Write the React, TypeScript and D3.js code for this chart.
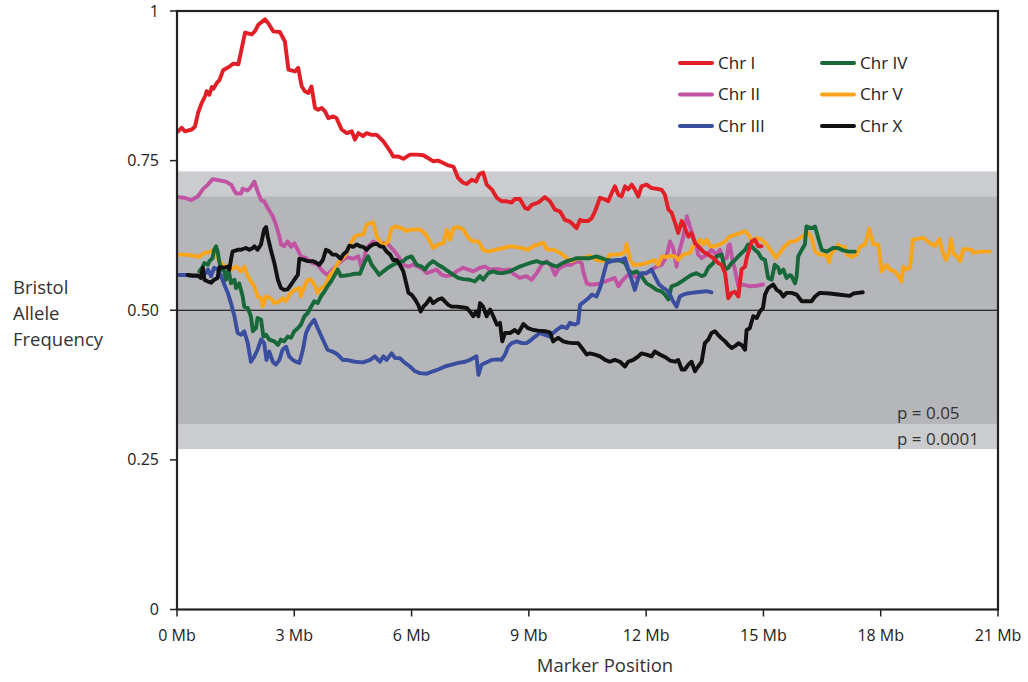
import * as d3 from "d3";

// marker position (Mb), Bristol allele frequency
const chrI: [number, number][] = [
  [0.03, 0.799], [0.12, 0.805], [0.2, 0.799], [0.38, 0.802], [0.46, 0.807], [0.54, 0.83], [0.63, 0.846],
  [0.72, 0.858], [0.76, 0.866], [0.83, 0.86], [0.89, 0.873], [0.93, 0.87], [1.02, 0.88], [1.08, 0.884],
  [1.18, 0.901], [1.36, 0.908], [1.44, 0.912], [1.57, 0.911], [1.74, 0.964], [1.91, 0.961], [1.99, 0.966],
  [2.08, 0.977], [2.25, 0.986], [2.33, 0.98], [2.46, 0.966], [2.63, 0.965], [2.76, 0.949], [2.85, 0.902],
  [3.02, 0.899], [3.1, 0.905], [3.19, 0.874], [3.27, 0.866], [3.36, 0.863], [3.44, 0.874], [3.53, 0.838],
  [3.61, 0.835], [3.7, 0.838], [3.79, 0.832], [3.87, 0.821], [4.0, 0.824], [4.08, 0.821], [4.21, 0.802],
  [4.34, 0.796], [4.47, 0.799], [4.55, 0.785], [4.64, 0.796], [4.76, 0.791], [4.85, 0.796], [4.98, 0.793],
  [5.11, 0.793], [5.28, 0.782], [5.45, 0.766], [5.53, 0.757], [5.66, 0.757], [5.79, 0.753], [5.96, 0.76],
  [6.13, 0.76], [6.3, 0.759], [6.43, 0.754], [6.55, 0.749], [6.68, 0.75], [6.81, 0.746], [6.94, 0.742],
  [7.07, 0.74], [7.19, 0.721], [7.32, 0.713], [7.41, 0.711], [7.54, 0.718], [7.65, 0.715], [7.73, 0.727],
  [7.83, 0.73], [7.92, 0.71], [8.05, 0.702], [8.18, 0.688], [8.3, 0.682], [8.43, 0.682], [8.56, 0.68],
  [8.64, 0.686], [8.77, 0.686], [8.9, 0.671], [8.98, 0.669], [9.07, 0.676], [9.24, 0.68], [9.41, 0.689],
  [9.54, 0.682], [9.67, 0.668], [9.8, 0.665], [9.92, 0.651], [10.05, 0.648], [10.18, 0.64], [10.22, 0.637],
  [10.31, 0.651], [10.39, 0.649], [10.52, 0.649], [10.61, 0.654], [10.69, 0.665], [10.82, 0.688], [10.95, 0.685],
  [11.03, 0.682], [11.12, 0.696], [11.2, 0.707], [11.29, 0.693], [11.37, 0.69], [11.46, 0.707], [11.54, 0.702],
  [11.63, 0.71], [11.71, 0.702], [11.8, 0.69], [11.88, 0.707], [12.01, 0.71], [12.14, 0.704], [12.27, 0.703],
  [12.4, 0.701], [12.48, 0.693], [12.57, 0.668], [12.65, 0.663], [12.74, 0.646], [12.82, 0.629], [12.91, 0.649],
  [12.99, 0.638], [13.08, 0.623], [13.16, 0.629], [13.25, 0.612], [13.33, 0.607], [13.46, 0.598], [13.59, 0.593],
  [13.72, 0.587], [13.84, 0.579], [13.93, 0.576], [14.02, 0.562], [14.1, 0.52], [14.19, 0.529], [14.27, 0.531],
  [14.36, 0.523], [14.44, 0.568], [14.53, 0.573], [14.57, 0.587], [14.7, 0.615], [14.78, 0.618], [14.87, 0.607],
  [14.95, 0.607],
];

const chrII: [number, number][] = [
  [0.02, 0.689], [0.19, 0.688], [0.36, 0.684], [0.53, 0.69], [0.66, 0.702], [0.79, 0.71], [0.91, 0.719],
  [1.08, 0.717], [1.25, 0.715], [1.38, 0.71], [1.51, 0.695], [1.64, 0.695], [1.68, 0.703], [1.81, 0.7],
  [1.89, 0.706], [1.98, 0.715], [2.06, 0.699], [2.15, 0.684], [2.23, 0.682], [2.32, 0.671], [2.45, 0.657],
  [2.53, 0.643], [2.62, 0.623], [2.66, 0.61], [2.74, 0.607], [2.83, 0.615], [2.92, 0.606], [3.0, 0.612],
  [3.09, 0.601], [3.17, 0.59], [3.3, 0.587], [3.38, 0.582], [3.47, 0.579], [3.6, 0.576], [3.73, 0.565],
  [3.85, 0.559], [3.98, 0.568], [4.15, 0.579], [4.24, 0.584], [4.34, 0.589], [4.51, 0.586], [4.64, 0.59],
  [4.72, 0.571], [4.85, 0.604], [5.02, 0.615], [5.15, 0.61], [5.28, 0.612], [5.4, 0.61], [5.53, 0.601],
  [5.66, 0.59], [5.79, 0.576], [5.92, 0.573], [6.04, 0.576], [6.17, 0.573], [6.3, 0.568], [6.39, 0.562],
  [6.51, 0.565], [6.64, 0.568], [6.77, 0.559], [6.9, 0.557], [7.03, 0.559], [7.15, 0.565], [7.32, 0.571],
  [7.45, 0.568], [7.58, 0.565], [7.75, 0.571], [7.88, 0.573], [8.0, 0.568], [8.18, 0.569], [8.34, 0.567],
  [8.52, 0.568], [8.6, 0.561], [8.77, 0.554], [8.94, 0.557], [9.07, 0.551], [9.2, 0.562], [9.33, 0.576],
  [9.46, 0.582], [9.58, 0.573], [9.67, 0.559], [9.75, 0.568], [9.84, 0.573], [9.97, 0.576], [10.09, 0.576],
  [10.22, 0.582], [10.35, 0.579], [10.39, 0.565], [10.48, 0.545], [10.56, 0.543], [10.69, 0.543], [10.82, 0.545],
  [10.95, 0.548], [11.07, 0.551], [11.2, 0.554], [11.29, 0.54], [11.37, 0.548], [11.5, 0.557], [11.63, 0.562],
  [11.76, 0.554], [11.88, 0.559], [12.01, 0.562], [12.14, 0.568], [12.27, 0.573], [12.4, 0.576], [12.52, 0.59],
  [12.61, 0.615], [12.69, 0.604], [12.78, 0.573], [12.82, 0.59], [12.86, 0.601], [12.95, 0.623], [13.04, 0.657],
  [13.12, 0.64], [13.2, 0.623], [13.29, 0.607], [13.33, 0.593], [13.42, 0.587], [13.55, 0.593], [13.67, 0.601],
  [13.8, 0.593], [13.89, 0.601], [13.97, 0.585], [14.06, 0.587], [14.1, 0.607], [14.14, 0.61], [14.19, 0.59],
  [14.27, 0.568], [14.36, 0.54], [14.48, 0.543], [14.65, 0.54], [14.83, 0.541], [14.99, 0.543],
];

const chrIII: [number, number][] = [
  [0.02, 0.559], [0.23, 0.559], [0.4, 0.557], [0.61, 0.557], [0.74, 0.562], [0.79, 0.568], [0.87, 0.557],
  [0.95, 0.571], [1.04, 0.568], [1.13, 0.557], [1.21, 0.543], [1.3, 0.529], [1.38, 0.512], [1.47, 0.49],
  [1.55, 0.462], [1.64, 0.459], [1.72, 0.465], [1.81, 0.445], [1.89, 0.414], [1.98, 0.423], [2.06, 0.434],
  [2.15, 0.451], [2.23, 0.445], [2.29, 0.417], [2.36, 0.431], [2.45, 0.414], [2.53, 0.409], [2.62, 0.417],
  [2.7, 0.434], [2.79, 0.439], [2.87, 0.423], [2.96, 0.417], [3.04, 0.414], [3.13, 0.412], [3.21, 0.431],
  [3.3, 0.462], [3.38, 0.473], [3.47, 0.481], [3.51, 0.484], [3.6, 0.47], [3.73, 0.451], [3.85, 0.434],
  [3.98, 0.431], [4.11, 0.426], [4.24, 0.417], [4.34, 0.417], [4.55, 0.414], [4.76, 0.413], [4.94, 0.417],
  [5.06, 0.423], [5.19, 0.414], [5.28, 0.423], [5.36, 0.417], [5.49, 0.428], [5.58, 0.42], [5.7, 0.42],
  [5.83, 0.412], [5.96, 0.406], [6.09, 0.398], [6.21, 0.395], [6.39, 0.394], [6.55, 0.398], [6.68, 0.401],
  [6.85, 0.406], [7.03, 0.409], [7.19, 0.412], [7.37, 0.414], [7.49, 0.417], [7.66, 0.423], [7.71, 0.392],
  [7.79, 0.409], [7.88, 0.412], [8.05, 0.417], [8.22, 0.418], [8.3, 0.417], [8.39, 0.426], [8.47, 0.439],
  [8.56, 0.445], [8.69, 0.448], [8.82, 0.445], [8.94, 0.445], [9.07, 0.451], [9.16, 0.456], [9.28, 0.462],
  [9.41, 0.459], [9.54, 0.456], [9.62, 0.462], [9.71, 0.467], [9.84, 0.473], [9.97, 0.47], [10.05, 0.479],
  [10.18, 0.476], [10.26, 0.479], [10.31, 0.509], [10.43, 0.515], [10.52, 0.52], [10.61, 0.526], [10.73, 0.523],
  [10.82, 0.537], [10.9, 0.557], [10.99, 0.579], [11.12, 0.582], [11.25, 0.584], [11.37, 0.584], [11.46, 0.587],
  [11.54, 0.568], [11.63, 0.551], [11.71, 0.534], [11.8, 0.554], [11.88, 0.562], [12.01, 0.562], [12.14, 0.568],
  [12.22, 0.557], [12.33, 0.543], [12.44, 0.537], [12.52, 0.534], [12.61, 0.526], [12.69, 0.515], [12.78, 0.506],
  [12.86, 0.523], [12.95, 0.526], [13.04, 0.528], [13.16, 0.529], [13.29, 0.53], [13.42, 0.531], [13.55, 0.532],
  [13.67, 0.53],
];

const chrIV: [number, number][] = [
  [0.57, 0.565], [0.66, 0.573], [0.7, 0.579], [0.79, 0.576], [0.83, 0.582], [0.91, 0.587], [0.95, 0.601],
  [1.0, 0.607], [1.04, 0.598], [1.08, 0.582], [1.13, 0.568], [1.21, 0.565], [1.25, 0.551], [1.32, 0.568],
  [1.38, 0.545], [1.47, 0.551], [1.51, 0.537], [1.59, 0.545], [1.68, 0.523], [1.72, 0.506], [1.81, 0.504],
  [1.89, 0.49], [1.94, 0.465], [2.02, 0.47], [2.06, 0.487], [2.15, 0.484], [2.21, 0.456], [2.28, 0.459],
  [2.36, 0.451], [2.49, 0.448], [2.58, 0.442], [2.66, 0.451], [2.74, 0.448], [2.83, 0.456], [2.92, 0.454],
  [3.0, 0.465], [3.09, 0.47], [3.17, 0.476], [3.26, 0.49], [3.34, 0.495], [3.43, 0.506], [3.51, 0.515],
  [3.6, 0.512], [3.68, 0.523], [3.77, 0.531], [3.85, 0.54], [3.94, 0.548], [4.02, 0.557], [4.11, 0.568],
  [4.19, 0.557], [4.32, 0.558], [4.42, 0.559], [4.55, 0.561], [4.68, 0.561], [4.81, 0.582], [4.89, 0.59],
  [4.98, 0.576], [5.11, 0.565], [5.17, 0.559], [5.28, 0.565], [5.4, 0.571], [5.53, 0.576], [5.66, 0.58],
  [5.79, 0.582], [5.87, 0.587], [6.0, 0.59], [6.13, 0.576], [6.26, 0.573], [6.34, 0.568], [6.43, 0.576],
  [6.55, 0.582], [6.68, 0.576], [6.81, 0.571], [6.94, 0.565], [7.07, 0.559], [7.19, 0.554], [7.32, 0.552],
  [7.49, 0.551], [7.62, 0.548], [7.75, 0.557], [7.83, 0.551], [7.96, 0.562], [8.09, 0.565], [8.22, 0.562],
  [8.34, 0.562], [8.52, 0.565], [8.64, 0.569], [8.77, 0.573], [8.9, 0.576], [9.03, 0.579], [9.2, 0.582],
  [9.33, 0.579], [9.46, 0.58], [9.58, 0.576], [9.71, 0.573], [9.84, 0.578], [9.97, 0.582], [10.09, 0.584],
  [10.22, 0.587], [10.39, 0.587], [10.56, 0.587], [10.73, 0.59], [10.86, 0.587], [10.99, 0.584], [11.16, 0.583],
  [11.33, 0.583], [11.46, 0.579], [11.54, 0.568], [11.63, 0.562], [11.76, 0.565], [11.88, 0.557], [12.01, 0.545],
  [12.14, 0.54], [12.27, 0.534], [12.4, 0.531], [12.48, 0.526], [12.57, 0.518], [12.61, 0.529], [12.65, 0.54],
  [12.78, 0.543], [12.91, 0.548], [13.04, 0.554], [13.16, 0.559], [13.29, 0.562], [13.42, 0.557], [13.5, 0.559],
  [13.59, 0.571], [13.72, 0.579], [13.8, 0.59], [13.93, 0.593], [14.02, 0.568], [14.1, 0.571], [14.19, 0.579],
  [14.27, 0.584], [14.4, 0.593], [14.53, 0.601], [14.61, 0.61], [14.7, 0.607], [14.78, 0.601], [14.87, 0.596],
  [14.95, 0.587], [15.04, 0.584], [15.12, 0.554], [15.21, 0.551], [15.29, 0.576], [15.38, 0.571], [15.42, 0.562],
  [15.51, 0.568], [15.59, 0.554], [15.68, 0.559], [15.72, 0.557], [15.81, 0.545], [15.85, 0.557], [15.89, 0.59],
  [15.98, 0.601], [16.06, 0.61], [16.1, 0.64], [16.23, 0.637], [16.32, 0.64], [16.4, 0.621], [16.49, 0.601],
  [16.62, 0.598], [16.78, 0.604], [16.91, 0.604], [17.04, 0.6], [17.17, 0.598], [17.34, 0.598],
];

const chrV: [number, number][] = [
  [0.02, 0.593], [0.23, 0.593], [0.44, 0.591], [0.57, 0.589], [0.7, 0.596], [0.83, 0.597], [0.91, 0.6],
  [1.0, 0.593], [1.08, 0.582], [1.17, 0.576], [1.25, 0.573], [1.38, 0.568], [1.51, 0.573], [1.64, 0.565],
  [1.72, 0.573], [1.81, 0.557], [1.89, 0.548], [1.98, 0.54], [2.06, 0.523], [2.15, 0.52], [2.19, 0.506],
  [2.28, 0.523], [2.4, 0.52], [2.49, 0.512], [2.62, 0.515], [2.7, 0.52], [2.79, 0.515], [2.87, 0.526],
  [3.0, 0.534], [3.13, 0.537], [3.17, 0.523], [3.26, 0.54], [3.34, 0.551], [3.43, 0.551], [3.51, 0.543],
  [3.6, 0.529], [3.68, 0.537], [3.77, 0.54], [3.9, 0.557], [4.02, 0.568], [4.15, 0.582], [4.28, 0.59],
  [4.34, 0.596], [4.47, 0.615], [4.55, 0.623], [4.64, 0.626], [4.76, 0.626], [4.85, 0.643], [5.02, 0.647],
  [5.11, 0.623], [5.24, 0.61], [5.32, 0.61], [5.4, 0.615], [5.49, 0.637], [5.58, 0.64], [5.75, 0.637],
  [5.87, 0.632], [6.0, 0.635], [6.21, 0.635], [6.34, 0.629], [6.47, 0.615], [6.55, 0.604], [6.68, 0.61],
  [6.81, 0.612], [6.9, 0.635], [6.98, 0.618], [7.07, 0.637], [7.19, 0.639], [7.32, 0.635], [7.45, 0.621],
  [7.58, 0.615], [7.71, 0.615], [7.83, 0.601], [7.96, 0.598], [8.13, 0.601], [8.35, 0.604], [8.52, 0.607],
  [8.64, 0.606], [8.82, 0.604], [8.98, 0.601], [9.11, 0.607], [9.37, 0.613], [9.46, 0.602], [9.62, 0.601],
  [9.8, 0.596], [9.97, 0.587], [10.09, 0.582], [10.22, 0.586], [10.39, 0.587], [10.56, 0.591], [10.73, 0.584],
  [10.86, 0.582], [10.99, 0.584], [11.07, 0.593], [11.2, 0.593], [11.37, 0.594], [11.46, 0.598], [11.5, 0.611],
  [11.59, 0.584], [11.67, 0.576], [11.84, 0.576], [12.01, 0.579], [12.14, 0.582], [12.22, 0.584], [12.31, 0.576],
  [12.4, 0.59], [12.52, 0.589], [12.61, 0.591], [12.74, 0.59], [12.82, 0.584], [12.95, 0.593], [13.12, 0.596],
  [13.2, 0.607], [13.29, 0.61], [13.38, 0.618], [13.46, 0.61], [13.55, 0.618], [13.63, 0.607], [13.76, 0.607],
  [13.89, 0.61], [14.02, 0.615], [14.14, 0.623], [14.27, 0.626], [14.4, 0.629], [14.53, 0.632], [14.61, 0.626],
  [14.7, 0.618], [14.74, 0.615], [14.83, 0.621], [14.95, 0.618], [15.08, 0.61], [15.21, 0.598], [15.32, 0.587],
  [15.42, 0.596], [15.55, 0.607], [15.68, 0.615], [15.81, 0.615], [15.94, 0.621], [16.06, 0.626], [16.15, 0.629],
  [16.23, 0.621], [16.32, 0.598], [16.44, 0.593], [16.53, 0.593], [16.62, 0.591], [16.68, 0.58], [16.74, 0.596],
  [16.83, 0.601], [16.91, 0.61], [17.0, 0.604], [17.08, 0.606], [17.13, 0.593], [17.26, 0.589], [17.38, 0.593],
  [17.47, 0.606], [17.6, 0.61], [17.71, 0.636], [17.81, 0.61], [17.94, 0.61], [18.02, 0.565], [18.15, 0.576],
  [18.23, 0.568], [18.36, 0.565], [18.45, 0.557], [18.53, 0.548], [18.58, 0.573], [18.64, 0.568], [18.75, 0.571],
  [18.82, 0.618], [18.92, 0.619], [19.09, 0.621], [19.26, 0.612], [19.38, 0.607], [19.5, 0.619], [19.58, 0.598],
  [19.67, 0.584], [19.73, 0.593], [19.8, 0.619], [19.85, 0.596], [19.94, 0.59], [20.03, 0.582], [20.11, 0.602],
  [20.24, 0.602], [20.32, 0.601], [20.37, 0.596], [20.54, 0.598], [20.79, 0.598],
];

const chrX: [number, number][] = [
  [0.27, 0.559], [0.4, 0.558], [0.53, 0.558], [0.61, 0.554], [0.66, 0.571], [0.7, 0.551], [0.79, 0.548],
  [0.87, 0.546], [0.95, 0.551], [1.04, 0.554], [1.08, 0.572], [1.21, 0.571], [1.3, 0.573], [1.34, 0.568],
  [1.38, 0.584], [1.42, 0.598], [1.55, 0.601], [1.64, 0.601], [1.76, 0.604], [1.85, 0.601], [1.94, 0.604],
  [1.98, 0.607], [2.06, 0.601], [2.15, 0.61], [2.19, 0.623], [2.23, 0.635], [2.28, 0.639], [2.32, 0.623],
  [2.4, 0.601], [2.49, 0.579], [2.58, 0.551], [2.66, 0.537], [2.74, 0.534], [2.83, 0.535], [2.92, 0.543],
  [3.0, 0.551], [3.09, 0.559], [3.13, 0.586], [3.26, 0.584], [3.34, 0.582], [3.47, 0.582], [3.55, 0.58],
  [3.64, 0.576], [3.73, 0.584], [3.81, 0.601], [3.9, 0.598], [3.98, 0.593], [4.07, 0.593], [4.19, 0.586],
  [4.25, 0.593], [4.34, 0.598], [4.41, 0.608], [4.51, 0.606], [4.6, 0.61], [4.68, 0.607], [4.76, 0.606],
  [4.85, 0.601], [4.94, 0.607], [5.02, 0.61], [5.11, 0.611], [5.19, 0.607], [5.28, 0.606], [5.36, 0.598],
  [5.45, 0.593], [5.53, 0.584], [5.62, 0.584], [5.7, 0.576], [5.79, 0.565], [5.87, 0.543], [5.92, 0.529],
  [6.0, 0.526], [6.09, 0.518], [6.17, 0.509], [6.23, 0.498], [6.3, 0.506], [6.39, 0.512], [6.47, 0.52],
  [6.55, 0.512], [6.68, 0.518], [6.77, 0.52], [6.85, 0.515], [6.94, 0.509], [7.03, 0.506], [7.15, 0.506],
  [7.28, 0.505], [7.41, 0.504], [7.49, 0.498], [7.58, 0.49], [7.65, 0.498], [7.71, 0.49], [7.75, 0.512],
  [7.83, 0.506], [7.92, 0.49], [8.01, 0.501], [8.09, 0.49], [8.18, 0.476], [8.26, 0.479], [8.32, 0.448],
  [8.39, 0.462], [8.52, 0.462], [8.64, 0.467], [8.73, 0.462], [8.86, 0.477], [8.98, 0.47], [9.11, 0.467],
  [9.24, 0.466], [9.41, 0.465], [9.54, 0.463], [9.62, 0.448], [9.75, 0.454], [9.88, 0.448], [10.01, 0.446],
  [10.14, 0.445], [10.26, 0.445], [10.39, 0.434], [10.48, 0.426], [10.56, 0.428], [10.69, 0.426], [10.82, 0.423],
  [10.95, 0.417], [11.07, 0.414], [11.2, 0.417], [11.33, 0.414], [11.46, 0.406], [11.54, 0.414], [11.67, 0.417],
  [11.8, 0.423], [11.88, 0.428], [12.01, 0.426], [12.14, 0.423], [12.22, 0.431], [12.35, 0.426], [12.48, 0.422],
  [12.61, 0.416], [12.74, 0.414], [12.82, 0.417], [12.91, 0.401], [12.99, 0.401], [13.08, 0.409], [13.16, 0.414],
  [13.25, 0.398], [13.33, 0.406], [13.42, 0.414], [13.5, 0.445], [13.59, 0.451], [13.67, 0.462], [13.76, 0.465],
  [13.84, 0.459], [13.93, 0.453], [14.02, 0.448], [14.1, 0.442], [14.19, 0.437], [14.27, 0.44], [14.36, 0.445],
  [14.44, 0.442], [14.53, 0.434], [14.57, 0.467], [14.65, 0.47], [14.74, 0.49], [14.83, 0.487], [14.91, 0.498],
  [14.99, 0.504], [15.04, 0.526], [15.12, 0.537], [15.25, 0.543], [15.34, 0.534], [15.42, 0.531], [15.51, 0.523],
  [15.59, 0.529], [15.72, 0.529], [15.85, 0.526], [15.98, 0.515], [16.1, 0.515], [16.23, 0.515], [16.32, 0.523],
  [16.44, 0.529], [16.7, 0.528], [16.96, 0.526], [17.21, 0.524], [17.3, 0.528], [17.42, 0.529], [17.54, 0.53],
];

const xTicks = [0, 3, 6, 9, 12, 15, 18, 21];
const yTicks = [0, 0.25, 0.5, 0.75, 1];
const yTickLabels = ["0", "0.25", "0.50", "0.75", "1"];
const bands = { p05: [0.31, 0.69], p0001: [0.268, 0.732] };

const series = [
  { name: "Chr II", data: chrII, color: "#c054a2" },
  { name: "Chr V", data: chrV, color: "#f9a51b" },
  { name: "Chr IV", data: chrIV, color: "#17693a" },
  { name: "Chr III", data: chrIII, color: "#3a4ea0" },
  { name: "Chr I", data: chrI, color: "#e21f26" },
  { name: "Chr X", data: chrX, color: "#111111" },
];

const legendOrder = [
  ["Chr I", "Chr IV"],
  ["Chr II", "Chr V"],
  ["Chr III", "Chr X"],
];

const FONT = "'Open Sans', 'Noto Sans', sans-serif";

export default function App() {
  const width = 1028, height = 682;
  const x = d3.scaleLinear().domain([0, 21]).range([177, 998]);
  const y = d3.scaleLinear().domain([0, 1]).range([609.5, 11]);
  const line = d3.line<[number, number]>().x(d => x(d[0])).y(d => y(d[1]));
  const colorOf = (n: string) => series.find(s => s.name === n)!.color;

  return (
    <div style={{ position: "fixed", left: 0, top: 0 }}>
      <svg width={width} height={height} style={{ display: "block", background: "#fff" }} fontFamily={FONT}>
        {/* significance bands */}
        <rect x={x(0)} width={x(21) - x(0)} y={y(bands.p0001[1])} height={y(bands.p0001[0]) - y(bands.p0001[1])} fill="#cbcccf" />
        <rect x={x(0)} width={x(21) - x(0)} y={y(bands.p05[1])} height={y(bands.p05[0]) - y(bands.p05[1])} fill="#b5b6ba" />
        <line x1={x(0)} x2={x(21)} y1={y(0.5)} y2={y(0.5)} stroke="#000" strokeWidth={1.2} />

        {series.map(s => (
          <path key={s.name} d={line(s.data) || ""} fill="none" stroke={s.color} strokeWidth={3.9}
            strokeLinejoin="round" strokeLinecap="round" />
        ))}

        {/* frame */}
        <rect x={x(0)} y={y(1)} width={x(21) - x(0)} height={y(0) - y(1)} fill="none" stroke="#222" strokeWidth={2.2} />

        {/* y axis */}
        {yTicks.map((t, i) => (
          <g key={t}>
            <line x1={x(0) - 7} x2={x(0)} y1={y(t)} y2={y(t)} stroke="#222" strokeWidth={1.5} />
            <text x={x(0) - 18} y={y(t)} dy="0.35em" textAnchor="end" fontSize={16} fill="#222">{yTickLabels[i]}</text>
          </g>
        ))}
        {/* x axis */}
        {xTicks.map(t => (
          <g key={t}>
            <line x1={x(t)} x2={x(t)} y1={y(0)} y2={y(0) + 7} stroke="#222" strokeWidth={1.5} />
            <text x={x(t)} y={641} textAnchor="middle" fontSize={16} fill="#222">{t} Mb</text>
          </g>
        ))}
        <text x={605} y={672} textAnchor="middle" fontSize={18.5} fill="#333">Marker Position</text>
        <text x={13} fontSize={18.5} fill="#333">
          <tspan x={13} y={294}>Bristol</tspan>
          <tspan x={13} y={320}>Allele</tspan>
          <tspan x={13} y={346}>Frequency</tspan>
        </text>

        <text x={897} y={419} fontSize={17} fill="#333">p = 0.05</text>
        <text x={897} y={445} fontSize={17} fill="#333">p = 0.0001</text>

        {/* legend */}
        {legendOrder.map((row, r) => row.map((name, c) => {
          const lx = 680 + c * 142, ly = 63 + r * 31.5;
          return (
            <g key={name}>
              <line x1={lx} x2={lx + 32} y1={ly} y2={ly} stroke={colorOf(name)} strokeWidth={4} strokeLinecap="round" />
              <text x={lx + 38} y={ly} dy="0.35em" fontSize={17} fill="#222">{name}</text>
            </g>
          );
        }))}
      </svg>
    </div>
  );
}
